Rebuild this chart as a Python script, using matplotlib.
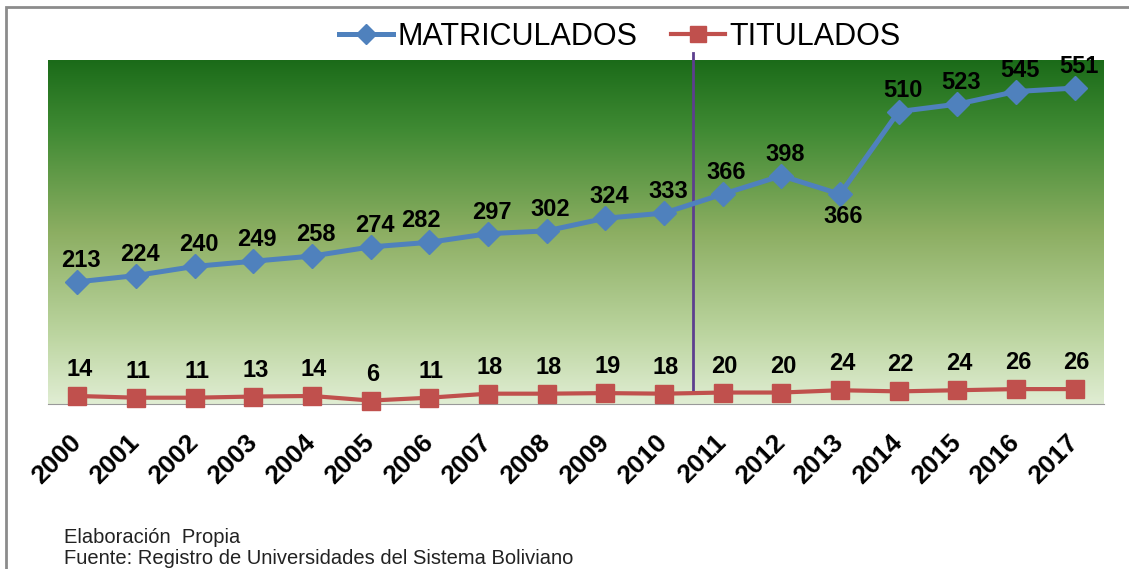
import numpy as np
import matplotlib
matplotlib.use("Agg")
import matplotlib.pyplot as plt
from matplotlib.colors import LinearSegmentedColormap
from matplotlib.patches import Rectangle

# data
years = ["2000", "2001", "2002", "2003", "2004", "2005", "2006", "2007", "2008",
         "2009", "2010", "2011", "2012", "2013", "2014", "2015", "2016", "2017"]
matriculados = [213, 224, 240, 249, 258, 274, 282, 297, 302, 324, 333, 366, 398, 366, 510, 523, 545, 551]
titulados = [14, 11, 11, 13, 14, 6, 11, 18, 18, 19, 18, 20, 20, 24, 22, 24, 26, 26]

W, H = 1129, 569
fig = plt.figure(figsize=(W / 100, H / 100), dpi=100)
fig.patch.set_facecolor("white")

# grey frame around the whole chart (runs off right and bottom edges)
fig.patches.append(Rectangle((6 / W, -0.1), 1.2, 1 - 7 / H + 0.1, transform=fig.transFigure,
                             fill=False, edgecolor="#8c8c8c", linewidth=2, clip_on=False))

ax = fig.add_axes([48 / W, 1 - 404 / H, 1056 / W, 344 / H])
x = np.arange(len(years))
ax.set_xlim(-0.5, len(years) - 0.5)
ax.set_ylim(0, 600)

# green gradient background
cmap = LinearSegmentedColormap.from_list("bg", [
    (0.0, "#1b6b19"), (0.2, "#3f8a33"), (0.5, "#8cae62"), (0.8, "#bcd5a0"), (1.0, "#e0edd3")])
grad = np.linspace(0, 1, 256).reshape(-1, 1)
ax.imshow(grad, cmap=cmap, aspect="auto", extent=[0, 1, 0, 1], origin="upper",
          transform=ax.transAxes, zorder=0)

# divider between 2010 and 2011
ax.plot([10.5, 10.5], [21, 612], color="#5d3f8e", linewidth=2, zorder=2, clip_on=False)

blue, red = "#4f81bd", "#c0504d"
ax.plot(x, matriculados, color=blue, linewidth=3.6, marker="D", markersize=12,
        label="MATRICULADOS", zorder=3, clip_on=False)
ax.plot(x, titulados, color=red, linewidth=3, marker="s", markersize=13,
        label="TITULADOS", zorder=3, clip_on=False)

lab_font = dict(fontsize=17, fontweight="bold", family="Liberation Sans")
for i, v in enumerate(matriculados):
    if i == 13:
        ax.annotate(str(v), (i, v), xytext=(3, -11), textcoords="offset pixels",
                    ha="center", va="top", **lab_font)
    else:
        dx = -8 if i == 6 else 4
        ax.annotate(str(v), (i, v), xytext=(dx, 10), textcoords="offset pixels",
                    ha="center", va="bottom", **lab_font)
for i, v in enumerate(titulados):
    ax.annotate(str(v), (i, v), xytext=(2, 15), textcoords="offset pixels",
                ha="center", va="bottom", **lab_font)

for s in ["top", "left", "right"]:
    ax.spines[s].set_visible(False)
ax.spines["bottom"].set_color("#999999")
ax.set_yticks([])
ax.set_xticks(x)
ax.set_xticklabels(years, rotation=45, ha="right", va="center", rotation_mode="anchor",
                   fontsize=19, fontweight="bold", family="Liberation Sans")
ax.tick_params(axis="x", length=0, pad=25)

fig.legend(loc="center", bbox_to_anchor=(620 / W, 1 - 37 / H), ncol=2, frameon=False,
           prop=dict(family="Liberation Sans", size=22), handlelength=1.75,
           handletextpad=0.16, columnspacing=1.1, markerscale=0.85)

fig.text(64 / W, 1 - 543 / H, "Elaboración  Propia", fontsize=14.5, family="Liberation Sans",
         va="baseline", color="#222222")
fig.text(64 / W, 1 - 564 / H, "Fuente: Registro de Universidades del Sistema Boliviano",
         fontsize=14.5, family="Liberation Sans", va="baseline", color="#222222")

fig.savefig("out.png", dpi=100)
